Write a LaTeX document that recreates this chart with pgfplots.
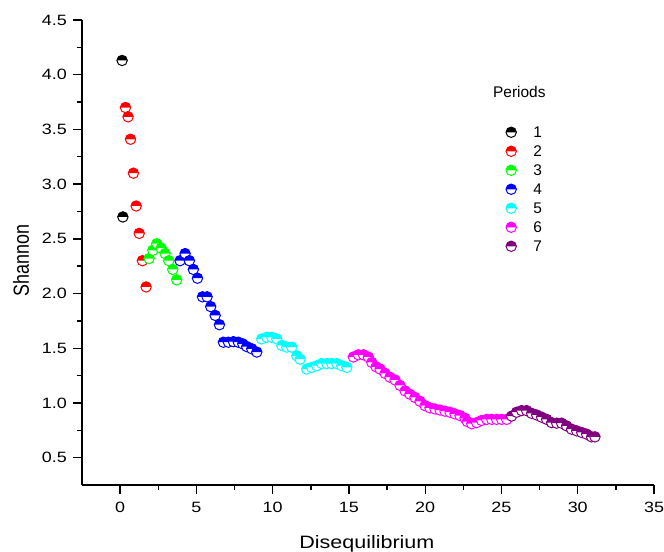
\documentclass[border=0pt]{standalone}
\usepackage{fontspec}
\setmainfont{Liberation Sans}
\newfontfamily\widefont{Liberation Sans}[FakeStretch=1.2]
\usepackage{pgfplots}
\pgfplotsset{compat=1.18}
\definecolor{cBlack}{RGB}{0,0,0}
\definecolor{cRed}{RGB}{255,0,0}
\definecolor{cGreen}{RGB}{0,255,0}
\definecolor{cBlue}{RGB}{0,0,255}
\definecolor{cCyan}{RGB}{0,255,255}
\definecolor{cMagenta}{RGB}{255,0,255}
\definecolor{cPurple}{RGB}{128,0,128}
\pgfdeclareplotmark{halfo}{%
  \pgfscope
    \pgfsetfillcolor{white}%
    \pgfpathcircle{\pgfpointorigin}{\pgfplotmarksize}%
    \pgfusepath{fill}%
  \endpgfscope
  \pgfpathmoveto{\pgfqpoint{\pgfplotmarksize}{0pt}}%
  \pgfpatharc{0}{180}{\pgfplotmarksize}%
  \pgfpathclose
  \pgfusepath{fill}%
  \pgfpathcircle{\pgfpointorigin}{\pgfplotmarksize}%
  \pgfusepath{stroke}%
}
\pgfplotsset{
  pstyle/.style={only marks, mark=halfo, mark size=5.2bp,
    mark options={draw=#1, fill=#1, line width=1bp}},
}
\begin{document}
\begin{tikzpicture}
\begin{axis}[
  scale only axis, width=572bp, height=465bp,
  xmin=-2.5, xmax=35, ymin=0.25, ymax=4.5,
  axis lines*=left,
  axis line style={line width=1.6bp, black},
  tick style={line width=1.4bp, black},
  tick align=outside,
  major tick length=9bp, minor tick length=5bp,
  xtick={0,5,...,35}, ytick={0.5,1,...,4.5},
  minor x tick num=1, minor y tick num=1,
  /pgf/number format/assume math mode=true,
  /pgf/number format/fixed,
  /pgf/number format/precision=1,
  yticklabel style={/pgf/number format/fixed zerofill, font=\widefont\fontsize{15}{15}\selectfont, inner sep=0pt, xshift=-6bp},
  xticklabel style={font=\widefont\fontsize{15}{15}\selectfont, inner sep=0pt, yshift=-8bp},
  every axis x label/.style={at={(axis description cs:0.498,0)}, yshift=-63bp, anchor=base, font=\widefont\fontsize{18}{18}\selectfont},
  every axis y label/.style={at={(axis description cs:0,0.482)}, xshift=-61bp, rotate=90, yscale=1.22, anchor=center, font=\fontsize{18}{18}\selectfont},
  xlabel={Disequilibrium}, ylabel={Shannon},
  clip=false,
  legend style={at={(axis description cs:0.7404,0.779)}, anchor=north west, draw=none, fill=none,
    inner sep=0pt, outer sep=0pt, font=\fontsize{15.5}{15.5}\selectfont,
    nodes={inner sep=0pt, text height=15.05bp, text depth=3.95bp}, row sep=0pt},
  legend cell align=left,
  legend image code/.code={\draw[#1] plot coordinates {(0bp,0bp)}; \path (-5.5bp,0bp) (22bp,0bp);},
]
\addplot[pstyle=cBlack] coordinates {(0.13,4.13) (0.18,2.70)};
\addlegendentry{1}
\addplot[pstyle=cRed] coordinates {(0.35,3.70) (0.52,3.615) (0.68,3.41) (0.87,3.10) (1.05,2.80) (1.25,2.55) (1.46,2.30) (1.70,2.06)};
\addlegendentry{2}
\addplot[pstyle=cGreen] coordinates {(1.90,2.32) (2.14,2.395) (2.40,2.455) (2.69,2.415) (2.95,2.365) (3.19,2.30) (3.45,2.22) (3.71,2.125)};
\addlegendentry{3}
\addplot[pstyle=cBlue] coordinates {(3.93,2.30) (4.26,2.365) (4.54,2.30) (4.80,2.22) (5.07,2.14) (5.40,1.97) (5.70,1.97) (5.94,1.88) (6.23,1.80) (6.51,1.715) (6.77,1.555) (7.10,1.555) (7.43,1.56) (7.75,1.555) (8.04,1.54) (8.30,1.515) (8.63,1.495) (8.96,1.465)};
\addlegendentry{4}
\addplot[pstyle=cCyan] coordinates {(9.28,1.585) (9.61,1.60) (9.94,1.60) (10.27,1.585) (10.60,1.525) (10.92,1.51) (11.25,1.51) (11.58,1.43) (11.80,1.40) (12.23,1.31) (12.56,1.325) (12.89,1.34) (13.22,1.36) (13.55,1.36) (13.87,1.36) (14.20,1.36) (14.53,1.34) (14.86,1.325)};
\addlegendentry{5}
\addplot[pstyle=cMagenta] coordinates {(15.29,1.42) (15.62,1.44) (15.95,1.44) (16.27,1.42) (16.50,1.37) (16.78,1.33) (17.04,1.31) (17.37,1.27) (17.69,1.235) (18.02,1.21) (18.35,1.16) (18.68,1.11) (19.00,1.08) (19.33,1.05) (19.66,1.015) (19.99,0.975) (20.31,0.955) (20.64,0.945) (20.97,0.935) (21.30,0.925) (21.63,0.915) (21.95,0.90) (22.28,0.885) (22.61,0.86) (22.76,0.83) (23.05,0.81) (23.37,0.82) (23.70,0.84) (24.03,0.85) (24.36,0.85) (24.68,0.85) (25.01,0.85) (25.34,0.85)};
\addlegendentry{6}
\addplot[pstyle=cPurple] coordinates {(25.67,0.88) (25.99,0.915) (26.32,0.93) (26.65,0.93) (26.98,0.905) (27.31,0.89) (27.63,0.87) (27.96,0.85) (28.29,0.82) (28.62,0.815) (28.94,0.815) (29.27,0.79) (29.60,0.76) (29.93,0.745) (30.26,0.73) (30.58,0.715) (30.91,0.69) (31.13,0.69)};
\addlegendentry{7}
\node[anchor=west, inner sep=0pt, font=\fontsize{15.5}{15.5}\selectfont] at (axis description cs:0.7185,0.8452) {Periods};
\coordinate (sw) at (rel axis cs:0,0);
\end{axis}
\pgfresetboundingbox
\path ([xshift=-82bp,yshift=-67bp]sw) rectangle ++(664bp,552bp);
\end{tikzpicture}
\end{document}
